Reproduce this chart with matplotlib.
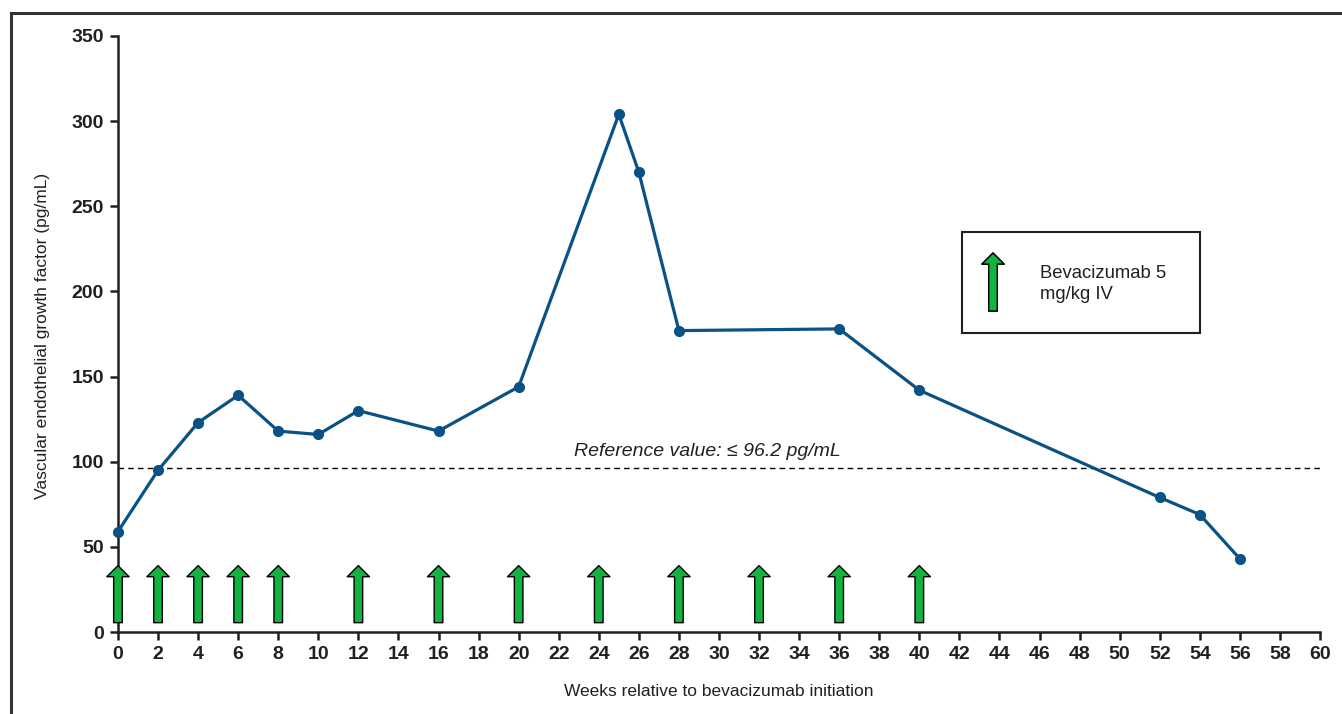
import matplotlib.pyplot as plt
from matplotlib.lines import Line2D
from matplotlib.patches import Rectangle

# VEGF values over time
weeks = [0, 2, 4, 6, 8, 10, 12, 16, 20, 25, 26, 28, 36, 40, 52, 54, 56]
vegf = [59, 95, 123, 139, 118, 116, 130, 118, 144, 304, 270, 177, 178, 142, 79, 69, 43]

# bevacizumab dosing weeks
dose_weeks = [0, 2, 4, 6, 8, 12, 16, 20, 24, 28, 32, 36, 40]
ref_value = 96.2

line_color = '#0a5185'
green = '#13b33f'
dark = '#231f20'

plt.rcParams['font.family'] = ['Liberation Sans', 'DejaVu Sans']

fig = plt.figure(figsize=(13.42, 7.14), dpi=100)
ax = fig.add_axes([0.0879, 0.1148, 0.8957, 0.8348])

arrow_style = 'simple,head_width=1.6,head_length=0.8,tail_width=0.62'

# dosing arrows along the bottom
for w in dose_weeks:
    ax.annotate('', xy=(w, 39), xytext=(w, 5.5),
                arrowprops=dict(arrowstyle=arrow_style, fc=green, ec='black', lw=1.0,
                                shrinkA=0, shrinkB=0, mutation_scale=10))

# reference line
ax.axhline(ref_value, color='black', lw=1.0, ls=(0, (4, 3)))
ax.text(29.4, 106, 'Reference value: \u2264 96.2 pg/mL', style='italic',
        fontsize=14, ha='center', va='center', color=dark)

ax.plot(weeks, vegf, color=line_color, lw=2.3, marker='o', markersize=7,
        clip_on=False, zorder=5)

ax.set_xlim(0, 60)
ax.set_ylim(0, 350)
ax.set_xticks(range(0, 61, 2))
ax.set_yticks(range(0, 351, 50))
for s in ['top', 'right']:
    ax.spines[s].set_visible(False)
for s in ['left', 'bottom']:
    ax.spines[s].set_linewidth(1.8)
    ax.spines[s].set_color(dark)
ax.tick_params(direction='out', length=6, width=1.8, color=dark,
               labelsize=14, labelcolor=dark, pad=4)
for lab in ax.get_xticklabels() + ax.get_yticklabels():
    lab.set_fontweight('bold')

fig.text(719 / 1342, 1 - 692 / 714, 'Weeks relative to bevacizumab initiation',
         ha='center', va='center', fontsize=12.5, color=dark)
fig.text(43 / 1342, 1 - 336 / 714, 'Vascular endothelial growth factor (pg/mL)',
         ha='center', va='center', rotation=90, fontsize=12.5, color=dark)

# legend box
fig.add_artist(Rectangle((962 / 1342, 1 - 333 / 714), 238 / 1342, 101 / 714,
                         transform=fig.transFigure, fill=False, ec=dark, lw=1.5))
fig.add_artist(ax.annotate('', xy=(993 / 1342, 1 - 253 / 714),
                           xytext=(993 / 1342, 1 - 311 / 714),
                           xycoords='figure fraction', textcoords='figure fraction',
                           arrowprops=dict(arrowstyle=arrow_style, fc=green, ec='black', lw=1.0,
                                           shrinkA=0, shrinkB=0, mutation_scale=10)))
fig.text(1040 / 1342, 1 - 284 / 714, 'Bevacizumab 5\nmg/kg IV', ha='left', va='center',
         fontsize=13.3, color=dark, linespacing=1.35)

# outer frame
fig.add_artist(Line2D([11 / 1342, 1.0], [1 - 13 / 714, 1 - 13 / 714],
                      transform=fig.transFigure, color='#333333', lw=2.2))
fig.add_artist(Line2D([11 / 1342, 11 / 1342], [0, 1 - 13 / 714],
                      transform=fig.transFigure, color='#333333', lw=2.2))

fig.savefig('out.png', dpi=100)
